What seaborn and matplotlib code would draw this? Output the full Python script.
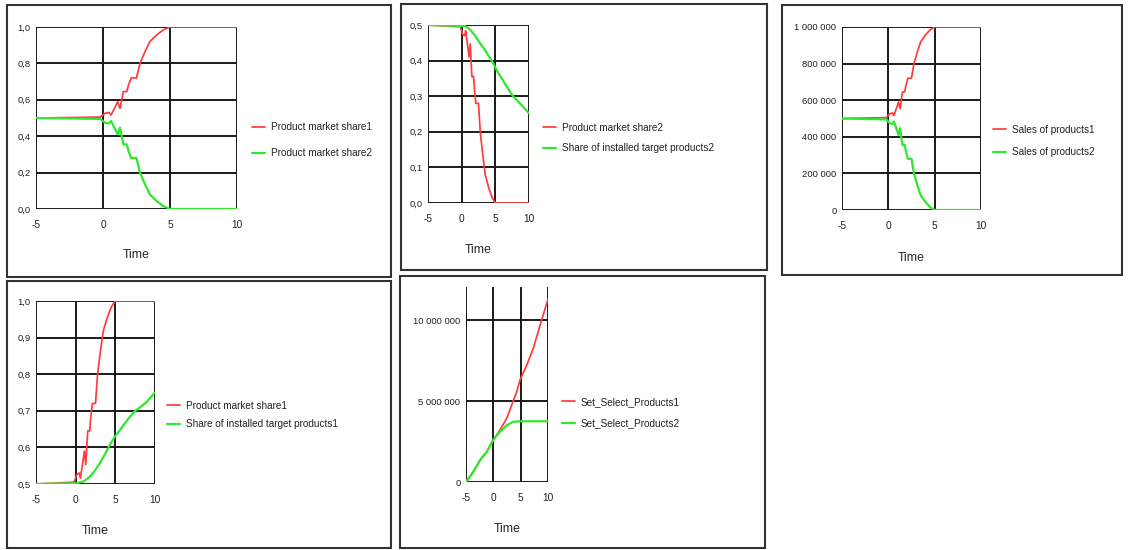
import matplotlib
matplotlib.use("Agg")
import matplotlib.pyplot as plt
from matplotlib.patches import Rectangle
from matplotlib.ticker import FuncFormatter
import seaborn as sns

# --- data ---
time_share = [-5, -0.2, 0.15, 0.45, 0.6, 0.9, 1.1, 1.27, 1.52, 1.77, 1.9, 2.1, 2.5, 2.76, 3.13, 3.5, 4.0, 4.5, 5.0, 10]
market_share1 = [0.5, 0.505, 0.526, 0.53, 0.516, 0.56, 0.59, 0.553, 0.645, 0.645, 0.68, 0.72, 0.72, 0.80, 0.864, 0.92, 0.956, 0.984, 1.0, 1.0]
market_share2 = [0.5, 0.495, 0.474, 0.47, 0.484, 0.44, 0.41, 0.447, 0.355, 0.355, 0.32, 0.28, 0.28, 0.20, 0.136, 0.08, 0.044, 0.016, 0.0, 0.0]

sales1 = [500000, 505000, 526000, 530000, 516000, 560000, 590000, 553000, 645000, 645000, 680000, 720000, 720000, 800000, 864000, 920000, 956000, 984000, 1000000, 1000000]
sales2 = [500000, 495000, 474000, 470000, 484000, 440000, 410000, 447000, 355000, 355000, 320000, 280000, 280000, 200000, 136000, 80000, 44000, 16000, 0, 0]

time_installed2 = [-5, 0.5, 1.2, 2.0, 2.8, 3.46, 4.1, 4.7, 5.2, 5.8, 6.4, 7.0, 7.67, 8.3, 8.9, 10]
installed2 = [0.5, 0.497, 0.488, 0.47, 0.447, 0.43, 0.41, 0.392, 0.373, 0.355, 0.336, 0.318, 0.299, 0.287, 0.275, 0.252]

time_installed1 = [-5, 0.1, 1.0, 1.8, 2.4, 3.06, 3.7, 4.3, 4.96, 5.5, 6.0, 6.7, 7.5, 8.2, 8.95, 10]
installed1 = [0.5, 0.502, 0.507, 0.52, 0.536, 0.557, 0.582, 0.607, 0.63, 0.645, 0.66, 0.68, 0.70, 0.711, 0.724, 0.75]

time_select1 = [-5, -3.65, -2.4, -1.2, 0, 1.2, 2.45, 3.36, 4.27, 4.88, 6.1, 7.3, 8.84, 10]
select1 = [0, 640000, 1360000, 1870000, 2600000, 3200000, 3930000, 4750000, 5570000, 6300000, 7200000, 8250000, 10000000, 11300000]
time_select2 = [-5, -3.65, -2.4, -1.2, 0, 1.2, 2.45, 3.65, 4.9, 10]
select2 = [0, 640000, 1360000, 1870000, 2600000, 3100000, 3500000, 3720000, 3750000, 3750000]

RED = "#ff3b3b"
GREEN = "#2ee82e"

sns.set_style("white")
plt.rcParams["font.family"] = ["Liberation Sans", "DejaVu Sans"]
plt.rcParams["axes.unicode_minus"] = False
plt.rcParams["text.color"] = "#222222"
plt.rcParams["xtick.color"] = "#222222"
plt.rcParams["ytick.color"] = "#222222"

W, H = 1129, 550
fig = plt.figure(figsize=(W / 100, H / 100), dpi=100)


def px_axes(left, right, bottom, top):
    return fig.add_axes([left / W, 1 - bottom / H, (right - left) / W, (bottom - top) / H])


def dec_fmt(v, pos):
    return f"{v:.1f}".replace(".", ",")


def int_fmt(v, pos):
    return f"{int(round(v)):,}".replace(",", " ")


def draw_panel(ax, series, ylim, yticks, yfmt, xlab_y, leg_xy, leg_spacing):
    # second (green) series sits on top and a touch wider so it hides the red where they overlap
    for i, (t, v, col, lab) in enumerate(series):
        sns.lineplot(x=t, y=v, color=col, label=lab, ax=ax,
                     linewidth=1.25 + 0.35 * i, zorder=3 + i)
    ax.set_xlim(-5, 10)
    ax.set_xticks([-5, 0, 5, 10])
    ax.set_ylim(*ylim)
    ax.set_yticks(yticks)
    ax.yaxis.set_major_formatter(FuncFormatter(yfmt))
    ax.grid(True, color="#1a1a1a", linewidth=1.4)
    ax.set_axisbelow(True)
    for s in ax.spines.values():
        s.set_visible(False)
    ax.tick_params(axis="y", length=3, width=1, color="#1a1a1a", pad=1, labelsize=6.8)
    ax.tick_params(axis="x", length=2, width=1, color="#1a1a1a", pad=6, labelsize=7.3)
    ax.set_ylabel("")
    ax.set_xlabel("Time", fontsize=8.8)
    ax.xaxis.set_label_coords(0.5, xlab_y)
    ax.xaxis.label.set_verticalalignment("center")
    handles, labels = ax.get_legend_handles_labels()
    ax.get_legend().remove()
    fig.legend(handles, labels, loc="center left",
               bbox_to_anchor=(leg_xy[0] / W, 1 - leg_xy[1] / H),
               frameon=False, fontsize=7.2, handlelength=1.3, handletextpad=0.6,
               borderpad=0, borderaxespad=0, labelspacing=leg_spacing)


# panel 1
ax1 = px_axes(36, 237, 209, 27)
draw_panel(ax1,
           [(time_share, market_share1, RED, "Product market share1"),
            (time_share, market_share2, GREEN, "Product market share2")],
           (0, 1), [0, 0.2, 0.4, 0.6, 0.8, 1.0], dec_fmt, -0.253, (252, 140.5), 1.6)

# panel 2
ax2 = px_axes(428, 529, 203, 25)
draw_panel(ax2,
           [(time_share, market_share2, RED, "Product market share2"),
            (time_installed2, installed2, GREEN, "Share of installed target products2")],
           (0, 0.5), [0, 0.1, 0.2, 0.3, 0.4, 0.5], dec_fmt, -0.264, (543, 138), 1.05)

# panel 3
ax3 = px_axes(842, 981, 210, 27)
draw_panel(ax3,
           [(time_share, sales1, RED, "Sales of products1"),
            (time_share, sales2, GREEN, "Sales of products2")],
           (0, 1000000), [0, 200000, 400000, 600000, 800000, 1000000], int_fmt, -0.262, (993, 141), 1.27)

# panel 4
ax4 = px_axes(36, 155, 484, 301)
draw_panel(ax4,
           [(time_share, market_share1, RED, "Product market share1"),
            (time_installed1, installed1, GREEN, "Share of installed target products1")],
           (0.5, 1.0), [0.5, 0.6, 0.7, 0.8, 0.9, 1.0], dec_fmt, -0.257, (167, 415), 0.85)

# panel 5
ax5 = px_axes(466, 548, 482, 287)
draw_panel(ax5,
           [(time_select1, select1, RED, "Set_Select_Products1"),
            (time_select2, select2, GREEN, "Set_Select_Products2")],
           (0, 12040000), [0, 5000000, 10000000], int_fmt, -0.241, (562, 412.5), 1.15)

# frames around each chart
boxes = [(7, 5, 391, 277), (401, 4, 767, 270), (782, 5, 1122, 275),
         (7, 281, 391, 548), (400, 276, 765, 548)]
for x0, y0, x1, y1 in boxes:
    fig.add_artist(Rectangle((x0 / W, 1 - y1 / H), (x1 - x0) / W, (y1 - y0) / H,
                             transform=fig.transFigure, fill=False,
                             edgecolor="#333333", linewidth=1.5))

fig.savefig("out.png", dpi=100, facecolor="white")
